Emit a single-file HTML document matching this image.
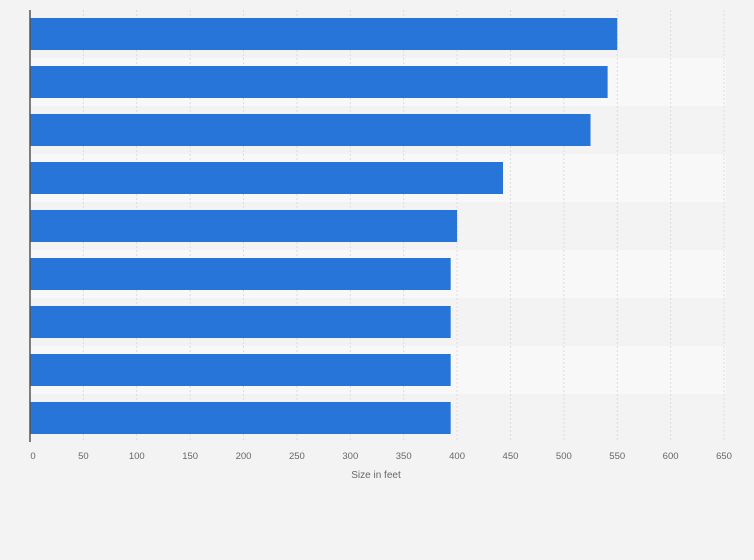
<!DOCTYPE html>
<html><head><meta charset="utf-8"><style>
html,body{margin:0;padding:0;background:#f3f3f3;}
svg{display:block;font-family:"Liberation Sans",sans-serif;}
</style></head><body>
<svg id="chart" width="754" height="560" xmlns="http://www.w3.org/2000/svg">
<rect width="754" height="560" fill="#f3f3f3"/>
<g id="bands"></g><g id="grid"></g><g id="bars"></g><g id="ticks"></g>
<line x1="30" y1="10" x2="30" y2="442" stroke="#555" stroke-width="1.5"/>
<text x="376" y="478" font-size="10" fill="#666" text-anchor="middle">Size in feet</text>
</svg>
<script>
const categories=["Item 1","Item 2","Item 3","Item 4","Item 5","Item 6","Item 7","Item 8","Item 9"];
const values=[550,541,525,443,400,394,394,394,394];
const tickValues=[0,50,100,150,200,250,300,350,400,450,500,550,600,650];
const NS="http://www.w3.org/2000/svg";
const x0=30,x1=724,xMax=650,top0=10,rowH=48,barH=32;
const xs=v=>x0+(v/xMax)*(x1-x0);
const ys=i=>top0+i*rowH;
function mk(t,a,p){const e=document.createElementNS(NS,t);for(const k in a)e.setAttribute(k,a[k]);document.getElementById(p).appendChild(e);return e;}
categories.forEach((c,i)=>{
  const b=mk("rect",{x:x0,y:ys(i),width:x1+2-x0,height:rowH,fill:i%2?"#f8f8f8":"#f3f3f3"},"bands");
  
  
});
tickValues.forEach(v=>{
  if(v>0){const g=mk("line",{x1:xs(v),x2:xs(v),y1:top0,y2:top0+rowH*categories.length,stroke:"#dcdcdc","stroke-dasharray":"2,2"},"grid");
  
  }
  const t=mk("text",{x:xs(v)+(v===0?3:0),y:459,"font-size":"9.5",fill:"#666","text-anchor":"middle"},"ticks");
  t.textContent=v;
  
  
});
values.forEach((v,i)=>{
  const r=mk("rect",{x:x0,y:ys(i)+8,width:xs(v)-x0,height:barH,fill:"#2775d9"},"bars");
  
  
});
</script>
</body></html>
